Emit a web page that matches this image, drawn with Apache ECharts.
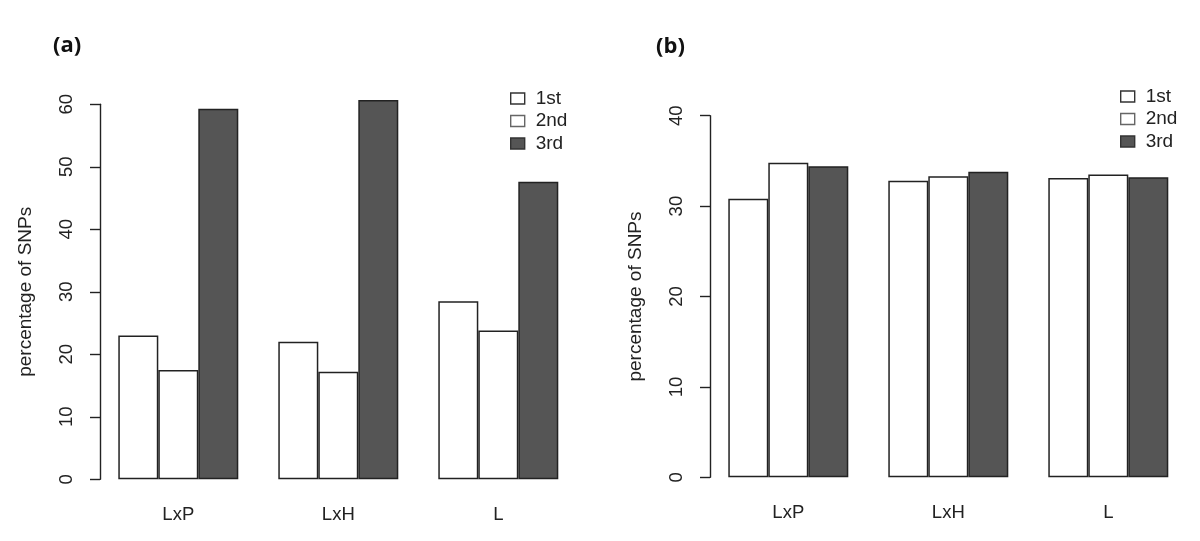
<!DOCTYPE html>
<html>
<head>
<meta charset="utf-8">
<script src="https://cdn.jsdelivr.net/npm/echarts@6/dist/echarts.min.js"></script>
<style>
html,body{margin:0;padding:0;background:#fff;}
#chart{width:1200px;height:541px;}
</style>
</head>
<body>
<div id="chart"></div>
<script>
// ---- data ----
var categories = ['LxP', 'LxH', 'L'];
var seriesNames = ['1st', '2nd', '3rd'];
// panel (a)
var a1st = [23.0, 22.0, 28.5];
var a2nd = [17.5, 17.2, 23.8];
var a3rd = [59.3, 60.7, 47.6];
// panel (b)
var b1st = [30.8, 32.8, 33.1];
var b2nd = [34.8, 33.3, 33.5];
var b3rd = [34.4, 33.8, 33.2];
// y tick values
var aTicks = [0, 10, 20, 30, 40, 50, 60];
var bTicks = [0, 10, 20, 30, 40];

var FONT = "'Liberation Sans', Arial, sans-serif";
var INK = '#222';
var fills = ['#ffffff', '#ffffff', '#555555'];

function yAxis(idx, max, interval) {
  return {
    type: 'value', gridIndex: idx, min: 0, max: max, interval: interval,
    offset: -1.7,
    name: 'percentage of SNPs', nameLocation: 'middle', nameGap: 65, nameRotate: 90,
    nameTextStyle: {fontFamily: FONT, fontSize: 19, color: INK},
    axisLine: {show: true, lineStyle: {color: INK, width: 1.4}},
    axisTick: {show: true, length: 10, lineStyle: {color: INK, width: 1.4}},
    axisLabel: {rotate: 90, margin: 24, fontFamily: FONT, fontSize: 18.5, color: INK},
    splitLine: {show: false}
  };
}
function xAxis(idx) {
  return {
    type: 'category', gridIndex: idx, data: categories,
    axisLine: {show: false}, axisTick: {show: false},
    axisLabel: {margin: 26, fontFamily: FONT, fontSize: 18.5, color: INK}
  };
}
function bars(idx, arrs) {
  return arrs.map(function (d, i) {
    return {
      type: 'bar', name: seriesNames[i], xAxisIndex: idx, yAxisIndex: idx,
      data: d, barGap: '0%', barCategoryGap: '25%', clip: false,
      itemStyle: {color: fills[i], borderColor: INK, borderWidth: 1.5},
      emphasis: {disabled: true}, animation: false
    };
  });
}
function legend(left, top) {
  return {
    left: left, top: top, orient: 'vertical', selectedMode: false,
    icon: 'rect', itemWidth: 14, itemHeight: 11, itemGap: 3.5,
    textStyle: {fontFamily: FONT, fontSize: 19, color: INK, lineHeight: 19, padding: [0, 0, 0, 6]},
    data: [
      {name: '1st', itemStyle: {color: '#fff', borderColor: '#333', borderWidth: 1.4}},
      {name: '2nd', itemStyle: {color: '#fff', borderColor: '#666', borderWidth: 1.4}},
      {name: '3rd', itemStyle: {color: '#555', borderColor: '#333', borderWidth: 1.4}}
    ]
  };
}

var chart = echarts.init(document.getElementById('chart'), null, {renderer: 'canvas'});
chart.setOption({
  animation: false,
  backgroundColor: '#fff',
  title: [
    {text: '(a)', left: 48, top: 30, textStyle: {fontFamily: "'Open Sans', sans-serif", fontWeight: 'bold', fontSize: 22, color: '#111'}},
    {text: '(b)', left: 651, top: 31, textStyle: {fontFamily: "'Open Sans', sans-serif", fontWeight: 'bold', fontSize: 22, color: '#111'}}
  ],
  legend: [legend(505, 84), legend(1115, 82)],
  grid: [
    {left: 98.3, top: 104.3, width: 480, height: 375, containLabel: false},
    {left: 708.3, top: 115.7, width: 480, height: 361.6, containLabel: false}
  ],
  xAxis: [xAxis(0), xAxis(1)],
  yAxis: [yAxis(0, aTicks[aTicks.length - 1], aTicks[1] - aTicks[0]), yAxis(1, bTicks[bTicks.length - 1], bTicks[1] - bTicks[0])],
  series: bars(0, [a1st, a2nd, a3rd]).concat(bars(1, [b1st, b2nd, b3rd]))
});
</script>
</body>
</html>
